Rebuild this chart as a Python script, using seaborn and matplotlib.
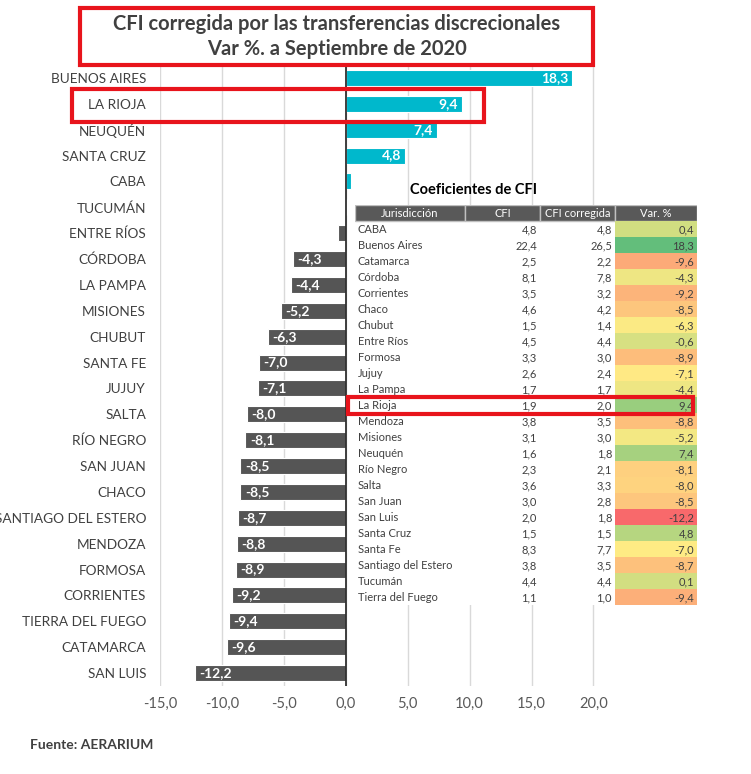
import numpy as np
import pandas as pd
import matplotlib
matplotlib.use("Agg")
import matplotlib.pyplot as plt
import matplotlib.patches as mpatches
from matplotlib.colors import LinearSegmentedColormap, TwoSlopeNorm
import seaborn as sns

# --- chart data ---
provincias = ["BUENOS AIRES", "LA RIOJA", "NEUQUÉN", "SANTA CRUZ", "CABA", "TUCUMÁN",
              "ENTRE RÍOS", "CÓRDOBA", "LA PAMPA", "MISIONES", "CHUBUT", "SANTA FE",
              "JUJUY", "SALTA", "RÍO NEGRO", "SAN JUAN", "CHACO", "SANTIAGO DEL ESTERO",
              "MENDOZA", "FORMOSA", "CORRIENTES", "TIERRA DEL FUEGO", "CATAMARCA", "SAN LUIS"]
var_pct = [18.3, 9.4, 7.4, 4.8, 0.4, 0.1, -0.6, -4.3, -4.4, -5.2, -6.3, -7.0,
           -7.1, -8.0, -8.1, -8.5, -8.5, -8.7, -8.8, -8.9, -9.2, -9.4, -9.6, -12.2]
x_ticks = [-15, -10, -5, 0, 5, 10, 15, 20]

# --- table data ---
tab_jur = ["CABA", "Buenos Aires", "Catamarca", "Córdoba", "Corrientes", "Chaco", "Chubut",
           "Entre Ríos", "Formosa", "Jujuy", "La Pampa", "La Rioja", "Mendoza", "Misiones",
           "Neuquén", "Río Negro", "Salta", "San Juan", "San Luis", "Santa Cruz", "Santa Fe",
           "Santiago del Estero", "Tucumán", "Tierra del Fuego"]
tab_cfi = [4.8, 22.4, 2.5, 8.1, 3.5, 4.6, 1.5, 4.5, 3.3, 2.6, 1.7, 1.9, 3.8, 3.1,
           1.6, 2.3, 3.6, 3.0, 2.0, 1.5, 8.3, 3.8, 4.4, 1.1]
tab_cfi_corr = [4.8, 26.5, 2.2, 7.8, 3.2, 4.2, 1.4, 4.4, 3.0, 2.4, 1.7, 2.0, 3.5, 3.0,
                1.8, 2.1, 3.3, 2.8, 1.8, 1.5, 7.7, 3.5, 4.4, 1.0]
tab_var = [0.4, 18.3, -9.6, -4.3, -9.2, -8.5, -6.3, -0.6, -8.9, -7.1, -4.4, 9.4, -8.8, -5.2,
           7.4, -8.1, -8.0, -8.5, -12.2, 4.8, -7.0, -8.7, 0.1, -9.4]
tab_headers = ["Jurisdicción", "CFI", "CFI corregida", "Var. %"]

def fmt(v):
    return f"{v:.1f}".replace(".", ",")

sns.set_style("white")
plt.rcParams["font.family"] = ["Lato", "DejaVu Sans"]

W, H = 751, 774
fig = plt.figure(figsize=(W / 100, H / 100), dpi=100)

def fx(px):
    return px / W

def fy(px):
    return 1 - px / H

# --- bar chart ---
ax = fig.add_axes([fx(160), fy(686), fx(643) - fx(160), fy(65) - fy(686)])
df = pd.DataFrame({"prov": provincias, "var": var_pct})
df["signo"] = np.where(df["var"] >= 0, "pos", "neg")
sns.barplot(data=df, y="prov", x="var", hue="signo", orient="h", ax=ax,
            palette={"pos": "#00b8cc", "neg": "#555555"}, width=0.62, saturation=1,
            legend=False, dodge=False, edgecolor="white", linewidth=0.8)
ax.set_xlim(-15, 24)
ax.set_xticks(x_ticks)
ax.set_xticklabels([fmt(t) for t in x_ticks], color="#595959", fontsize=10.5)
ax.set_xlabel("")
ax.set_ylabel("")
ax.tick_params(axis="y", labelsize=9.8, labelcolor="#404040", length=0, pad=10)
ax.tick_params(axis="x", length=0, pad=8)
ax.xaxis.grid(True, color="#d9d9d9", linewidth=1)
ax.set_axisbelow(True)
for s in ax.spines.values():
    s.set_visible(False)
ax.axvline(0, color="#303030", linewidth=1.3)

for i, v in enumerate(var_pct):
    if abs(v) < 1:
        continue
    if v > 0:
        ax.text(v - 0.35, i, fmt(v), ha="right", va="center", color="white",
                fontsize=10, fontweight="bold")
    else:
        ax.text(v + 0.35, i, fmt(v), ha="left", va="center", color="white",
                fontsize=10, fontweight="bold")

# --- table ---
tax = fig.add_axes([fx(355), fy(605), fx(697) - fx(355), fy(205) - fy(605)])
n = len(tab_jur)
tax.set_xlim(355, 697)
tax.set_ylim(n + 1, 0)
tax.axis("off")
tax.add_patch(mpatches.Rectangle((355, 0), 342, n + 1, color="white", zorder=0))
col_edges = [355, 465, 540, 615, 697]
for c, h in enumerate(tab_headers):
    tax.add_patch(mpatches.Rectangle((col_edges[c], 0), col_edges[c + 1] - col_edges[c], 1,
                                     facecolor="#595959", edgecolor="#c0c0c0", linewidth=1))
    tax.text((col_edges[c] + col_edges[c + 1]) / 2, 0.55, h, ha="center", va="center",
             color="white", fontsize=8)

cmap = LinearSegmentedColormap.from_list("excel", ["#f8696b", "#ffeb84", "#63be7b"])
norm = TwoSlopeNorm(vmin=min(tab_var), vcenter=float(np.median(tab_var)), vmax=max(tab_var))
for r in range(n):
    y = r + 1
    tax.add_patch(mpatches.Rectangle((615, y), 82, 1, facecolor=cmap(norm(tab_var[r])),
                                     edgecolor="none"))
    tax.text(358, y + 0.55, tab_jur[r], ha="left", va="center", fontsize=8, color="#404040")
    tax.text(537, y + 0.55, fmt(tab_cfi[r]), ha="right", va="center", fontsize=8, color="#404040")
    tax.text(612, y + 0.55, fmt(tab_cfi_corr[r]), ha="right", va="center", fontsize=8, color="#404040")
    tax.text(694, y + 0.55, fmt(tab_var[r]), ha="right", va="center", fontsize=8, color="#404040")

fig.text(fx(410), fy(190), "Coeficientes de CFI", fontsize=10.5, fontweight="bold",
         color="black", ha="left", va="center")

# --- title and highlight boxes ---
fig.text(fx(337), fy(24), "CFI corregida por las transferencias discrecionales",
         ha="center", va="center", fontsize=14.5, fontweight="bold", color="#404040")
fig.text(fx(337), fy(49), "Var %. a Septiembre de 2020",
         ha="center", va="center", fontsize=14.5, fontweight="bold", color="#404040")
for (x0, y0, x1, y1) in [(80, 8, 593, 65), (72, 89, 484, 122), (348, 397, 693, 414)]:
    fig.add_artist(mpatches.Rectangle((fx(x0), fy(y1)), fx(x1) - fx(x0), fy(y0) - fy(y1),
                                      transform=fig.transFigure, fill=False,
                                      edgecolor="#e8141c", linewidth=3))

fig.text(fx(30), fy(745), "Fuente: AERARIUM", fontsize=10, fontweight="bold",
         color="#404040", ha="left", va="center")

fig.savefig("out.png", dpi=100)
